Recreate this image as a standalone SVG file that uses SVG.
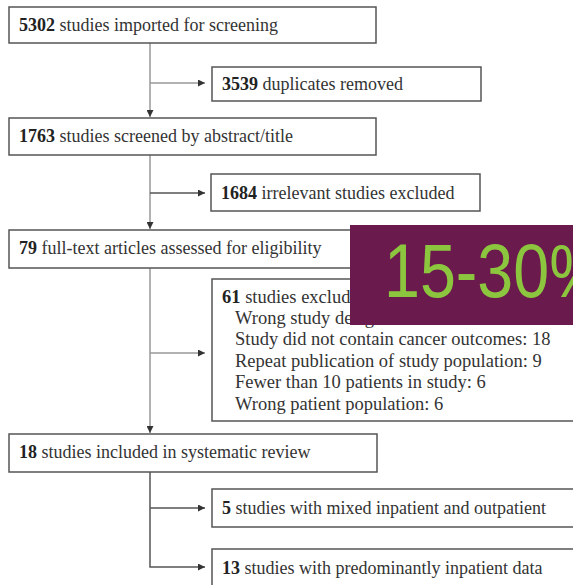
<svg xmlns="http://www.w3.org/2000/svg" width="573" height="585" viewBox="0 0 573 585">
<style>
.box{fill:#fff;stroke:#555;stroke-width:1.5}
.t{font-family:"Liberation Serif","Times New Roman",serif;font-size:18px;fill:#333}
.t6{font-family:"Liberation Serif","Times New Roman",serif;font-size:18.5px;fill:#333}
.b{font-weight:bold;fill:#222}
.v{stroke:#999;stroke-width:1.5;fill:none}
.h{stroke:#555;stroke-width:1.5;fill:none}
.d{stroke:#555;stroke-width:1.5;fill:none}
</style>
<defs>
<marker id="ah" viewBox="0 0 10 10" refX="10" refY="5" markerWidth="7" markerHeight="7" markerUnits="userSpaceOnUse" orient="auto">
<path d="M0,0 L10,5 L0,10 z" fill="#333"/>
</marker>
</defs>
<rect width="573" height="585" fill="#fff"/>
<g id="connectors">
<path class="v" d="M150,43 V117" marker-end="url(#ah)"/>
<path class="v" d="M150,83 H205" marker-end="url(#ah)"/>
<path class="v" d="M150,155 V229" marker-end="url(#ah)"/>
<path class="h" d="M150,193 H205" marker-end="url(#ah)"/>
<path class="v" d="M150,268 V433" marker-end="url(#ah)"/>
<path class="v" d="M150,353 H205" marker-end="url(#ah)"/>
<path class="d" d="M150,472 V567 H205" marker-end="url(#ah)"/>
<path class="d" d="M150,508 H205" marker-end="url(#ah)"/>
</g>
<g id="n1"><rect class="box" x="9" y="7" width="367" height="36"/><text class="t" x="19" y="31"><tspan class="b">5302</tspan> studies imported for screening</text></g>
<g id="n2"><rect class="box" x="212" y="67" width="269" height="34"/><text class="t" x="222" y="90"><tspan class="b">3539</tspan> duplicates removed</text></g>
<g id="n3"><rect class="box" x="9" y="118" width="367" height="37"/><text class="t" x="19" y="142"><tspan class="b">1763</tspan> studies screened by abstract/title</text></g>
<g id="n4"><rect class="box" x="211" y="174" width="269" height="37"/><text class="t" x="221" y="199"><tspan class="b">1684</tspan> irrelevant studies excluded</text></g>
<g id="n5"><rect class="box" x="9" y="230" width="367" height="38"/><text class="t" x="19" y="254"><tspan class="b">79</tspan> full-text articles assessed for eligibility</text></g>
<g id="n6"><rect class="box" x="212" y="279" width="370" height="142"/>
<text class="t6" x="222" y="303"><tspan class="b">61</tspan> studies excluded</text>
<text class="t6" x="235" y="324">Wrong study design</text>
<text class="t6" x="235" y="345">Study did not contain cancer outcomes: 18</text>
<text class="t6" x="235" y="367">Repeat publication of study population: 9</text>
<text class="t6" x="235" y="388">Fewer than 10 patients in study: 6</text>
<text class="t6" x="235" y="410">Wrong patient population: 6</text>
</g>
<g id="n7"><rect class="box" x="9" y="434" width="368" height="38"/><text class="t" x="19" y="458"><tspan class="b">18</tspan> studies included in systematic review</text></g>
<g id="n8"><rect class="box" x="212" y="489" width="370" height="38"/><text class="t" x="222" y="514"><tspan class="b">5</tspan> studies with mixed inpatient and outpatient</text></g>
<g id="n9"><rect class="box" x="212" y="549" width="370" height="45"/><text class="t" x="222" y="574"><tspan class="b">13</tspan> studies with predominantly inpatient data</text></g>
<g id="overlay"><rect x="350" y="225" width="230" height="100" fill="#6a1a4c"/><text transform="translate(384,297) scale(0.85,1)" font-family="'Liberation Sans',Arial,sans-serif" font-size="76" fill="#8cc63e">15-30%</text></g>
</svg>
